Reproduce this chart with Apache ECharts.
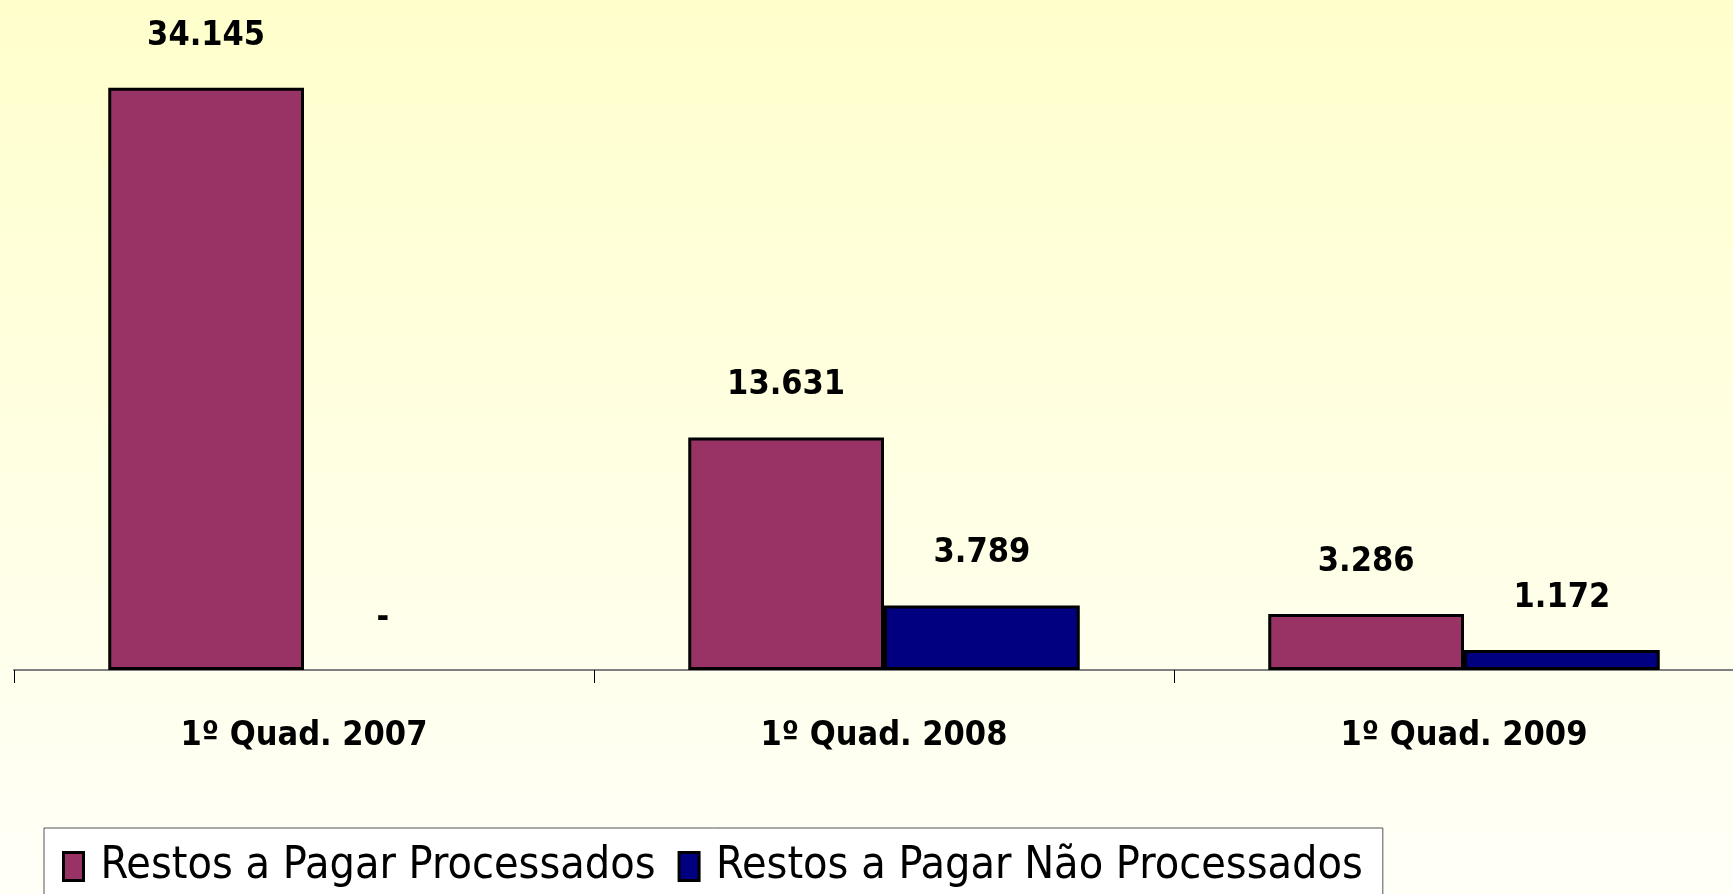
<!DOCTYPE html>
<html>
<head>
<meta charset="utf-8">
<script src="https://cdn.jsdelivr.net/npm/echarts@6/dist/echarts.min.js"></script>
<style>
  html, body { margin: 0; padding: 0; }
  #chart { width: 1733px; height: 894px; }
</style>
</head>
<body>
<div id="chart"></div>
<script>
// values in R$ thousands
const categories = ['1º Quad. 2007', '1º Quad. 2008', '1º Quad. 2009'];
const processados = [34145, 13631, 3286];
const naoProcessados = [0, 3789, 1172];
const seriesNames = ['Restos a Pagar Processados', 'Restos a Pagar Não Processados'];

const narrow = "'DejaVu Sans Condensed', 'Liberation Sans Narrow', sans-serif";

// 34145 -> "34.145", 0 -> "-"
const fmt = (v) => v === 0 ? '-' : String(v).replace(/\B(?=(\d{3})+(?!\d))/g, '.');

// zero bars get no outline, and their "-" sits a bit to the left
const toItems = (arr) => arr.map(v => v === 0
    ? { value: v, itemStyle: { borderWidth: 0 }, label: { offset: [-19, 0] } }
    : v);

const chart = echarts.init(document.getElementById('chart'));

const barLabel = {
    show: true,
    position: 'top',
    distance: 35,
    color: '#000',
    fontFamily: narrow,
    fontWeight: 'bold',
    fontSize: 34,
    formatter: (p) => fmt(p.value)
};

const option = {
    backgroundColor: {
        type: 'linear', x: 0, y: 0, x2: 0, y2: 1,
        colorStops: [
            { offset: 0, color: '#FFFFCC' },
            { offset: 1, color: '#FFFFF8' }
        ]
    },
    animation: false,
    grid: {
        left: 14,
        top: -12,
        width: 1740,
        bottom: 224,
        containLabel: false,
        outerBoundsMode: 'none'
    },
    legend: {
        left: 44,
        top: 828,
        padding: [16, 20, 30, 18],
        itemGap: 22,
        itemWidth: 20,
        itemHeight: 28,
        icon: 'rect',
        backgroundColor: '#FFFFFF',
        borderColor: '#555',
        borderWidth: 1,
        itemStyle: { borderColor: '#000', borderWidth: 3 },
        textStyle: {
            fontFamily: narrow,
            fontSize: 44.5,
            color: '#000',
            padding: [0, 0, 0, 12]
        },
        data: seriesNames
    },
    xAxis: {
        type: 'category',
        data: categories,
        axisLine: { lineStyle: { color: '#808080', width: 2 } },
        axisTick: { show: true, length: 13, lineStyle: { color: '#000', width: 1 } },
        axisLabel: {
            margin: 49,
            color: '#000',
            fontFamily: narrow,
            fontWeight: 'bold',
            fontSize: 34
        }
    },
    yAxis: {
        type: 'value',
        min: 0,
        max: 40000,
        show: false,
        splitLine: { show: false }
    },
    series: [
        {
            name: seriesNames[0],
            type: 'bar',
            data: toItems(processados),
            barGap: '0%',
            barCategoryGap: '32.5%',
            itemStyle: { color: '#993366', borderColor: '#000', borderWidth: 3 },
            label: barLabel
        },
        {
            name: seriesNames[1],
            type: 'bar',
            data: toItems(naoProcessados),
            itemStyle: { color: '#000080', borderColor: '#000', borderWidth: 3 },
            label: barLabel
        }
    ]
};

chart.setOption(option);
</script>
</body>
</html>
